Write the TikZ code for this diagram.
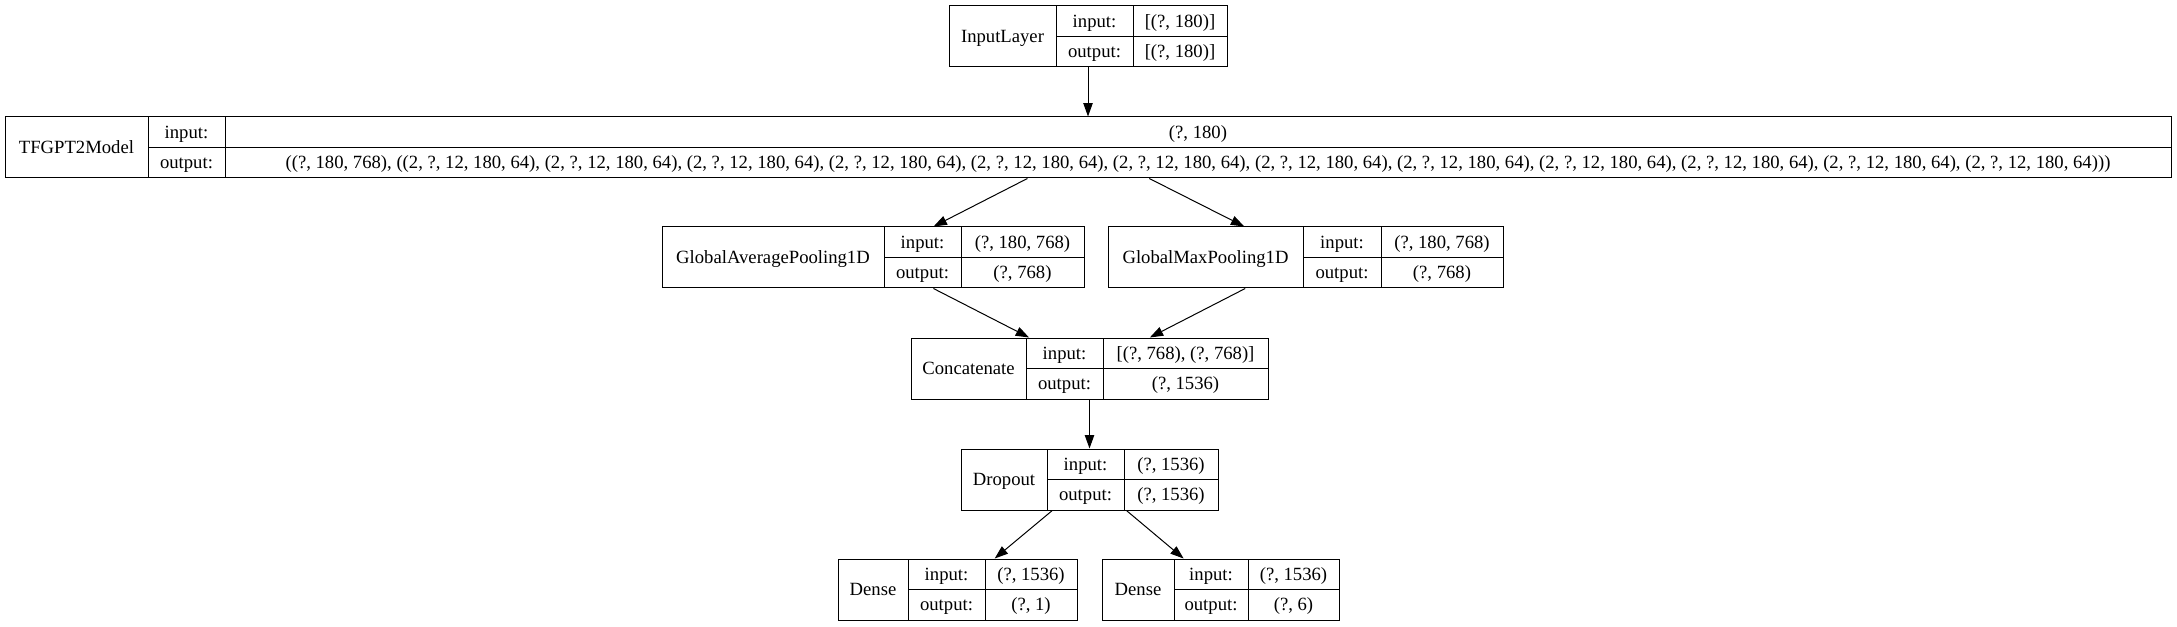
\documentclass[tikz,border=0pt]{standalone}
\usepackage{fontspec}
\setmainfont{Liberation Serif}
\usetikzlibrary{arrows.meta,fit}

\tikzset{
  rec/.style={draw, line width=0.75pt, inner sep=0pt},
  cell/.style={inner sep=0pt, text height=11pt, text depth=2pt,
    font=\fontsize{14}{16}\selectfont},
  flow/.style={-{Triangle[length=10pt,width=7pt]}, line width=0.75pt},
}

% one layer record: name, left, top, first divider, second divider, right, title, input, output
\newcommand{\kerasbox}[9]{%
  \coordinate (#1-nw) at (#2,#3);
  \coordinate (#1-se) at (#6,#3+61);
  \node[rec, fit=(#1-nw)(#1-se)] (#1) {};
  \draw[line width=0.75pt] (#4,#3) -- (#4,#3+61) (#5,#3) -- (#5,#3+61)
    (#4,#3+30.5) -- (#6,#3+30.5);
  \node[cell] (#1-title) at ({(#2+#4)/2},#3+30.5) {#7};
  \node[cell] (#1-in) at ({(#4+#5)/2},#3+15.25) {input:};
  \node[cell] (#1-out) at ({(#4+#5)/2},#3+45.75) {output:};
  \node[cell] (#1-inval) at ({(#5+#6)/2},#3+15.25) {#8};
  \node[cell] (#1-outval) at ({(#5+#6)/2},#3+45.75) {#9};
}

\newcommand{\pastkv}{(2, ?, 12, 180, 64)}

\begin{document}
\begin{tikzpicture}[x=0.75pt,y=-0.75pt]
  \useasboundingbox (0,0) rectangle (2177,627);

  \kerasbox{input}{949}{6}{1056}{1133}{1227}{InputLayer}{[(?, 180)]}{[(?, 180)]}
  \kerasbox{gpt}{5}{117}{148}{225}{2171}{TFGPT2Model}{(?, 180)}%
    {((?, 180, 768), (\pastkv, \pastkv, \pastkv, \pastkv, \pastkv, \pastkv, \pastkv, \pastkv, \pastkv, \pastkv, \pastkv, \pastkv))}
  \kerasbox{avgpool}{662}{227}{884}{961}{1084}{GlobalAveragePooling1D}{(?, 180, 768)}{(?, 768)}
  \kerasbox{maxpool}{1108}{227}{1303}{1381}{1503}{GlobalMaxPooling1D}{(?, 180, 768)}{(?, 768)}
  \kerasbox{concat}{911}{338}{1026}{1103}{1268}{Concatenate}{[(?, 768), (?, 768)]}{(?, 1536)}
  \kerasbox{dropout}{961}{449}{1047}{1124}{1218}{Dropout}{(?, 1536)}{(?, 1536)}
  \kerasbox{dense1}{838}{559}{908}{985}{1077}{Dense}{(?, 1536)}{(?, 1)}
  \kerasbox{dense2}{1102}{559}{1174}{1248}{1339}{Dense}{(?, 1536)}{(?, 6)}

  \draw[flow] (input) -- (gpt);
  \draw[flow] (gpt) -- (avgpool);
  \draw[flow] (gpt) -- (maxpool);
  \draw[flow] (avgpool) -- (concat);
  \draw[flow] (maxpool) -- (concat);
  \draw[flow] (concat) -- (dropout);
  \draw[flow] (dropout) -- (dense1);
  \draw[flow] (dropout) -- (dense2);
\end{tikzpicture}
\end{document}
